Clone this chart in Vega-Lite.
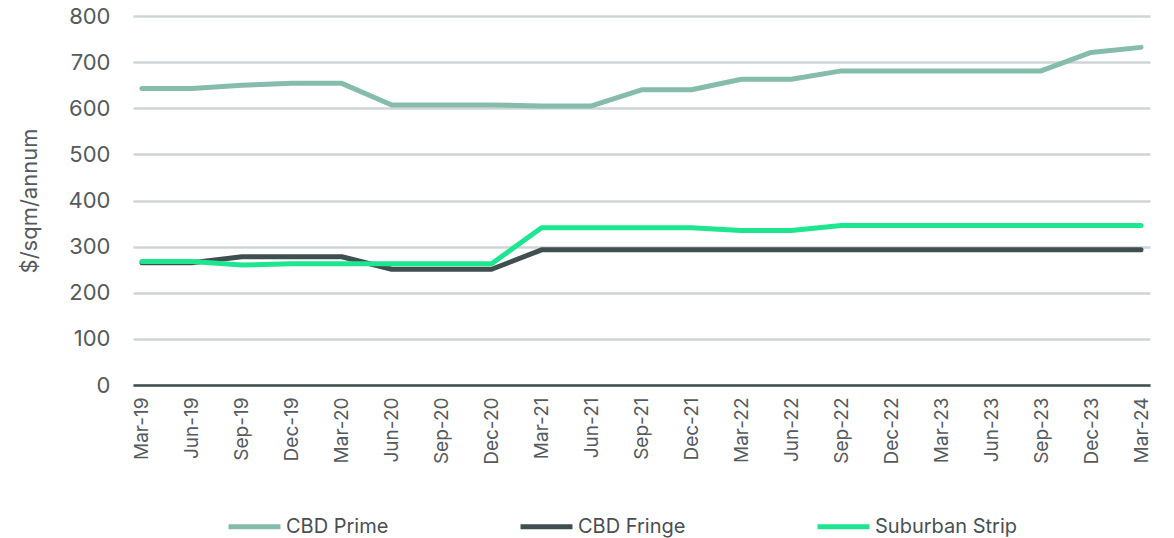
{
  "$schema": "https://vega.github.io/schema/vega-lite/v6.json",
  "width": 1017,
  "height": 369,
  "autosize": {"type": "none"},
  "padding": {"left": 133, "top": 16, "right": 24, "bottom": 153},
  "background": "#ffffff",
  "config": {
    "view": {"stroke": null},
    "font": "Inter",
    "axis": {"labelFont": "Inter", "titleFont": "Inter", "labelColor": "#555a5c", "titleColor": "#555a5c"},
    "legend": {"labelFont": "Inter"}
  },
  "data": {
    "values": [
      {"quarter": "Mar-19", "series": "CBD Prime", "rent": 643},
      {"quarter": "Jun-19", "series": "CBD Prime", "rent": 643},
      {"quarter": "Sep-19", "series": "CBD Prime", "rent": 650},
      {"quarter": "Dec-19", "series": "CBD Prime", "rent": 654},
      {"quarter": "Mar-20", "series": "CBD Prime", "rent": 654},
      {"quarter": "Jun-20", "series": "CBD Prime", "rent": 607},
      {"quarter": "Sep-20", "series": "CBD Prime", "rent": 607},
      {"quarter": "Dec-20", "series": "CBD Prime", "rent": 607},
      {"quarter": "Mar-21", "series": "CBD Prime", "rent": 605},
      {"quarter": "Jun-21", "series": "CBD Prime", "rent": 605},
      {"quarter": "Sep-21", "series": "CBD Prime", "rent": 640},
      {"quarter": "Dec-21", "series": "CBD Prime", "rent": 640},
      {"quarter": "Mar-22", "series": "CBD Prime", "rent": 663},
      {"quarter": "Jun-22", "series": "CBD Prime", "rent": 663},
      {"quarter": "Sep-22", "series": "CBD Prime", "rent": 681},
      {"quarter": "Dec-22", "series": "CBD Prime", "rent": 681},
      {"quarter": "Mar-23", "series": "CBD Prime", "rent": 681},
      {"quarter": "Jun-23", "series": "CBD Prime", "rent": 681},
      {"quarter": "Sep-23", "series": "CBD Prime", "rent": 681},
      {"quarter": "Dec-23", "series": "CBD Prime", "rent": 721},
      {"quarter": "Mar-24", "series": "CBD Prime", "rent": 732},
      {"quarter": "Mar-19", "series": "CBD Fringe", "rent": 265},
      {"quarter": "Jun-19", "series": "CBD Fringe", "rent": 265},
      {"quarter": "Sep-19", "series": "CBD Fringe", "rent": 278},
      {"quarter": "Dec-19", "series": "CBD Fringe", "rent": 278},
      {"quarter": "Mar-20", "series": "CBD Fringe", "rent": 278},
      {"quarter": "Jun-20", "series": "CBD Fringe", "rent": 251},
      {"quarter": "Sep-20", "series": "CBD Fringe", "rent": 251},
      {"quarter": "Dec-20", "series": "CBD Fringe", "rent": 251},
      {"quarter": "Mar-21", "series": "CBD Fringe", "rent": 293},
      {"quarter": "Jun-21", "series": "CBD Fringe", "rent": 293},
      {"quarter": "Sep-21", "series": "CBD Fringe", "rent": 293},
      {"quarter": "Dec-21", "series": "CBD Fringe", "rent": 293},
      {"quarter": "Mar-22", "series": "CBD Fringe", "rent": 293},
      {"quarter": "Jun-22", "series": "CBD Fringe", "rent": 293},
      {"quarter": "Sep-22", "series": "CBD Fringe", "rent": 293},
      {"quarter": "Dec-22", "series": "CBD Fringe", "rent": 293},
      {"quarter": "Mar-23", "series": "CBD Fringe", "rent": 293},
      {"quarter": "Jun-23", "series": "CBD Fringe", "rent": 293},
      {"quarter": "Sep-23", "series": "CBD Fringe", "rent": 293},
      {"quarter": "Dec-23", "series": "CBD Fringe", "rent": 293},
      {"quarter": "Mar-24", "series": "CBD Fringe", "rent": 293},
      {"quarter": "Mar-19", "series": "Suburban Strip", "rent": 268},
      {"quarter": "Jun-19", "series": "Suburban Strip", "rent": 268},
      {"quarter": "Sep-19", "series": "Suburban Strip", "rent": 260},
      {"quarter": "Dec-19", "series": "Suburban Strip", "rent": 263},
      {"quarter": "Mar-20", "series": "Suburban Strip", "rent": 263},
      {"quarter": "Jun-20", "series": "Suburban Strip", "rent": 263},
      {"quarter": "Sep-20", "series": "Suburban Strip", "rent": 263},
      {"quarter": "Dec-20", "series": "Suburban Strip", "rent": 263},
      {"quarter": "Mar-21", "series": "Suburban Strip", "rent": 341},
      {"quarter": "Jun-21", "series": "Suburban Strip", "rent": 341},
      {"quarter": "Sep-21", "series": "Suburban Strip", "rent": 341},
      {"quarter": "Dec-21", "series": "Suburban Strip", "rent": 341},
      {"quarter": "Mar-22", "series": "Suburban Strip", "rent": 335},
      {"quarter": "Jun-22", "series": "Suburban Strip", "rent": 335},
      {"quarter": "Sep-22", "series": "Suburban Strip", "rent": 346},
      {"quarter": "Dec-22", "series": "Suburban Strip", "rent": 346},
      {"quarter": "Mar-23", "series": "Suburban Strip", "rent": 346},
      {"quarter": "Jun-23", "series": "Suburban Strip", "rent": 346},
      {"quarter": "Sep-23", "series": "Suburban Strip", "rent": 346},
      {"quarter": "Dec-23", "series": "Suburban Strip", "rent": 346},
      {"quarter": "Mar-24", "series": "Suburban Strip", "rent": 346}
    ]
  },
  "mark": {"type": "line", "strokeWidth": 5, "strokeCap": "round", "strokeJoin": "round"},
  "encoding": {
    "x": {
      "field": "quarter",
      "type": "ordinal",
      "sort": null,
      "scale": {"type": "point", "padding": 0.18},
      "axis": {
        "title": null,
        "labelAngle": -90,
        "labelFontSize": 19,
        "labelPadding": 12,
        "ticks": false,
        "grid": false,
        "domainColor": "#3f4f4f",
        "domainWidth": 2.5
      }
    },
    "y": {
      "field": "rent",
      "type": "quantitative",
      "scale": {"domain": [0, 800], "nice": false},
      "axis": {
        "title": "$/sqm/annum",
        "titleFontSize": 22,
        "titleFontWeight": "normal",
        "titlePadding": 27,
        "labelFontSize": 22,
        "labelPadding": 23,
        "labelOverlap": false,
        "values": [0, 100, 200, 300, 400, 500, 600, 700, 800],
        "ticks": false,
        "domain": false,
        "gridColor": "#cfd4d7",
        "gridWidth": 2.5
      }
    },
    "color": {
      "field": "series",
      "type": "nominal",
      "sort": null,
      "scale": {
        "domain": ["CBD Prime", "CBD Fringe", "Suburban Strip"],
        "range": ["#86bcab", "#3f4f4f", "#1ee58f"]
      },
      "legend": {
        "title": null,
        "orient": "none",
        "direction": "horizontal",
        "legendX": 93,
        "legendY": 482,
        "padding": 0,
        "symbolType": "stroke",
        "symbolSize": 2700,
        "symbolStrokeWidth": 5,
        "labelFontSize": 20,
        "labelColor": "#4a4f52",
        "labelOffset": 3,
        "columnPadding": 121
      }
    }
  }
}
